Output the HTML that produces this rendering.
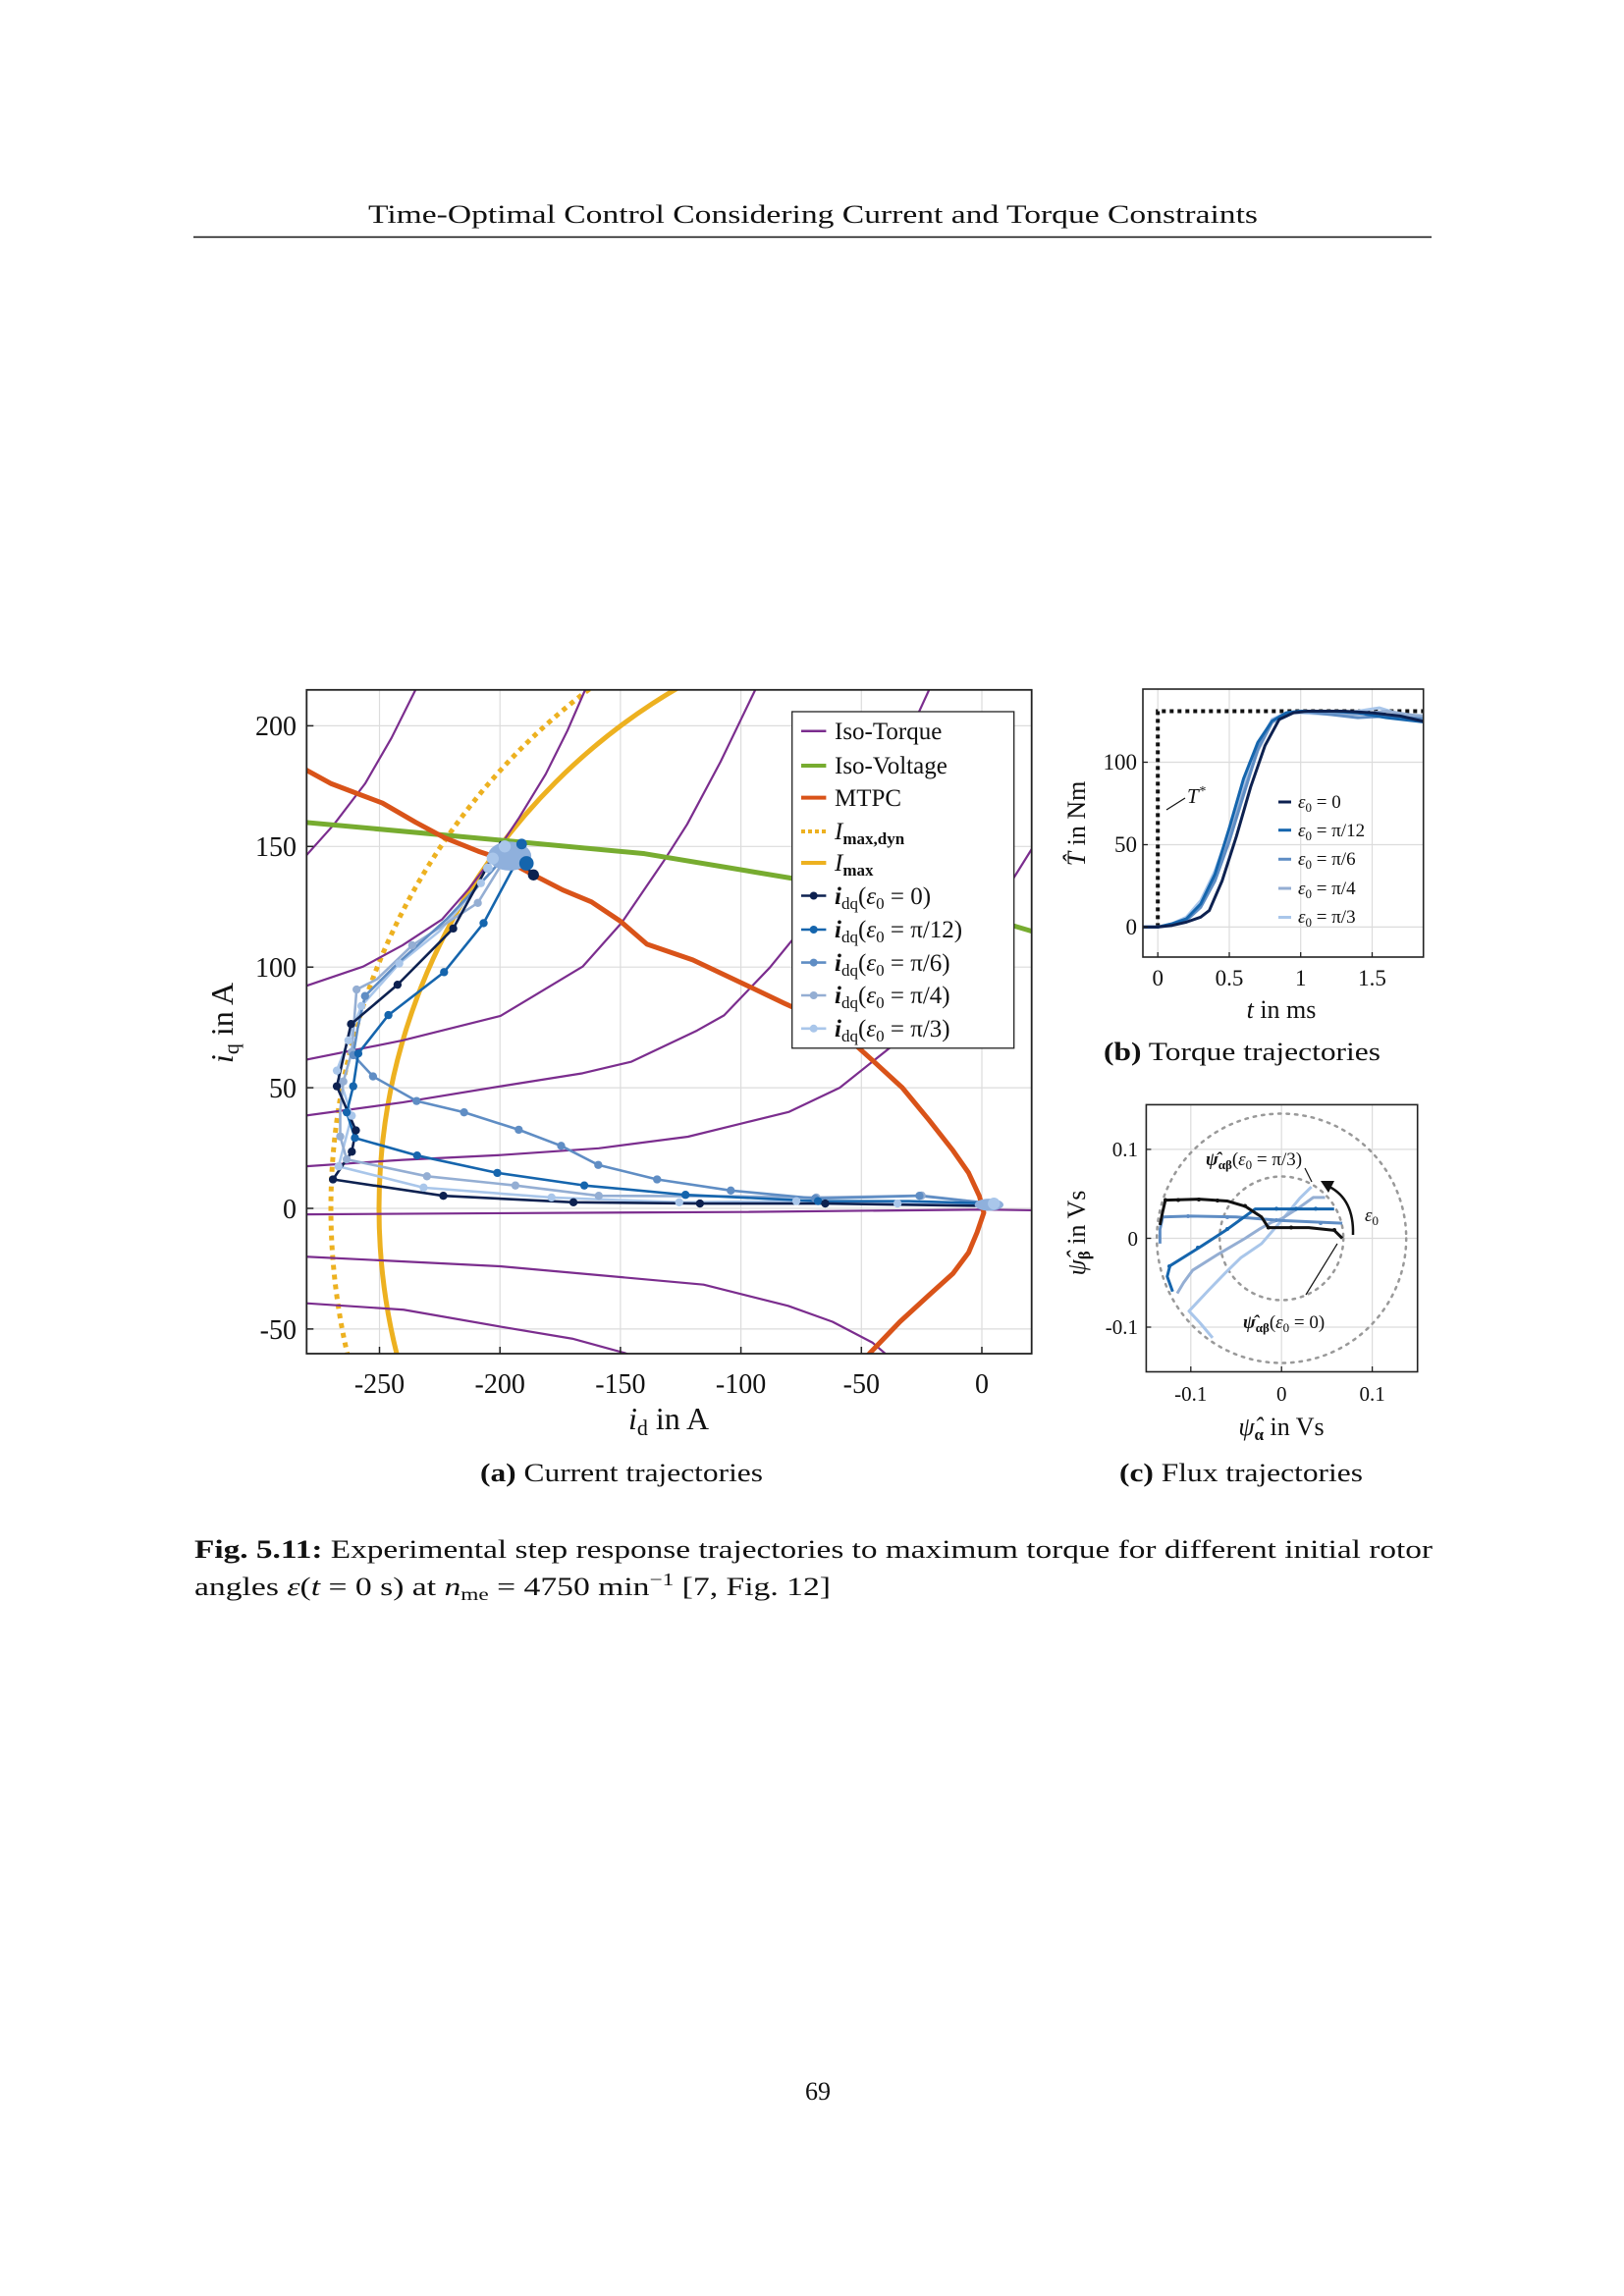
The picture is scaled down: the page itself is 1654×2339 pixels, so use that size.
<!DOCTYPE html>
<html><head><meta charset="utf-8"><style>
html,body{margin:0;padding:0;background:#fff}
svg{display:block}
text{font-family:"Liberation Serif",serif;fill:#111}
</style></head><body>
<svg width="1654" height="2339" viewBox="0 0 1654 2339" xmlns="http://www.w3.org/2000/svg">
<defs>
<clipPath id="ca"><rect x="312.3" y="702.8" width="738.4" height="676.2"/></clipPath>
<clipPath id="cb"><rect x="1164" y="702" width="285.7" height="273"/></clipPath>
<clipPath id="cc"><rect x="1167.4" y="1125.4" width="276.3" height="272.1"/></clipPath>
</defs>
<rect width="1654" height="2339" fill="#fff"/>
<!-- header -->
<text x="375" y="227" font-size="26" textLength="906" lengthAdjust="spacingAndGlyphs">Time-Optimal Control Considering Current and Torque Constraints</text>
<line x1="197" y1="241.5" x2="1458" y2="241.5" stroke="#111" stroke-width="1.6"/>

<!-- ========== PLOT A ========== -->
<g stroke="#dcdcdc" stroke-width="1.2">
<line x1="386.5" y1="702.8" x2="386.5" y2="1379"/><line x1="509.2" y1="702.8" x2="509.2" y2="1379"/><line x1="631.9" y1="702.8" x2="631.9" y2="1379"/><line x1="754.6" y1="702.8" x2="754.6" y2="1379"/><line x1="877.3" y1="702.8" x2="877.3" y2="1379"/><line x1="1000" y1="702.8" x2="1000" y2="1379"/>
<line x1="312.3" y1="739.4" x2="1050.7" y2="739.4"/><line x1="312.3" y1="862.3" x2="1050.7" y2="862.3"/><line x1="312.3" y1="985.2" x2="1050.7" y2="985.2"/><line x1="312.3" y1="1108.1" x2="1050.7" y2="1108.1"/><line x1="312.3" y1="1231" x2="1050.7" y2="1231"/><line x1="312.3" y1="1353.9" x2="1050.7" y2="1353.9"/>
</g>
<g clip-path="url(#ca)">
<circle cx="1000" cy="1231" r="663" fill="none" stroke="#edb120" stroke-width="5" stroke-dasharray="5 5"/>
<circle cx="1000" cy="1231" r="614" fill="none" stroke="#edb120" stroke-width="5"/>
<g transform="matrix(2.454 0 0 -2.458 1000 1231)" fill="none" stroke-linejoin="round" stroke-linecap="round">
<g stroke="#7b2d8e" stroke-width="2.2">
<path vector-effect="non-scaling-stroke" d="M-281,145.6 L-269,159 L-256,176 L-245,195 L-235,215 L-232,222"/>
<path vector-effect="non-scaling-stroke" d="M-281,92 L-256.8,100.2 L-240.5,109 L-224,119.8 L-213.3,132 L-203.8,144.3 L-192,162 L-181,180 L-172,198 L-164.6,215 L-162,222"/>
<path vector-effect="non-scaling-stroke" d="M-281,61.5 L-240.5,69.6 L-199.7,79.8 L-165.7,100.2 L-149.4,118.5 L-131.8,144.3 L-122.3,159.2 L-108.5,185 L-94,215 L-91,222"/>
<path vector-effect="non-scaling-stroke" d="M-281,38.4 L-240.5,43.9 L-199.7,50.6 L-165.7,56 L-145.4,60.8 L-118.2,73.7 L-107,80 L-88,99.8 L-75.6,115 L-62,138 L-48,162 L-35,188 L-26,206 L-21.4,216 L-19,222"/>
<path vector-effect="non-scaling-stroke" d="M-281,17.4 L-240.5,20.1 L-199.7,22.1 L-159,24.9 L-122,29.7 L-80,40 L-59,50 L-37,67.5 L-18,90 L1.2,118 L12,135 L22,151 L25,158"/>
<path vector-effect="non-scaling-stroke" d="M-281,-2.5 L-200,-2 L-100,-1.5 L0,-0.5 L22,-0.8"/>
<path vector-effect="non-scaling-stroke" d="M-281,-20 L-200,-24 L-115.5,-31.6 L-80.4,-40.4 L-62,-47 L-45.3,-55.7 L-38,-62"/>
<path vector-effect="non-scaling-stroke" d="M-281,-39.3 L-240,-42 L-200,-49 L-170,-54 L-148,-60 L-140,-63"/>
</g>
<path vector-effect="non-scaling-stroke" stroke="#77ac30" stroke-width="5" d="M-281,160 L-200,152.6 L-140,147 L-80,137 L-30,128 L0,121 L22,114.5"/>
<path vector-effect="non-scaling-stroke" stroke="#d95319" stroke-width="5" d="M-281,182 L-270,176 L-260.5,172.4 L-248.8,168 L-235,160 L-223,153.6 L-209,148 L-197,144 L-185.7,138 L-174,132 L-162,127 L-150,119 L-139,109.5 L-120,103 L-96.7,92 L-82,85 L-68.7,79 L-55,70 L-45,61 L-33,50 L-22,36.7 L-12,24 L-5.5,14.7 L-1,5 L0.8,-1.8 L-2,-10 L-5.5,-18.3 L-12,-27 L-22,-36 L-34,-47 L-46.5,-60 L-50,-64"/>
<g stroke-width="2.6">
<path vector-effect="non-scaling-stroke" stroke="#a9c6ea" d="M4,1.5 L-35,2 L-77,3 L-125.6,2.5 L-178.6,4.5 L-231.7,8.6 L-267,17.4 L-261.5,38.4 L-267.7,57.1 L-262.9,69.6 L-257.5,83.9 L-241.8,101.5 L-225,115 L-207.9,134.8 L-198,146 L-205,146 L-195,151"/>
<path vector-effect="non-scaling-stroke" stroke="#94aed3" d="M4,2 L-25,5.3 L-68.7,4.5 L-104,5 L-159,5.2 L-193.6,9.5 L-230.3,13.3 L-263.6,20.3 L-266.3,29.8 L-266.3,40.4 L-265,52.6 L-261.5,64.8 L-259.5,90.7 L-251,95 L-236.4,109 L-209.2,126.6 L-196,148 L-190,150"/>
<path vector-effect="non-scaling-stroke" stroke="#5f8dc4" d="M4,2 L-25.9,5.2 L-69.2,4.1 L-104.2,7.4 L-134.8,12 L-159.2,18 L-174.6,25.9 L-192.2,32.6 L-214.9,39.8 L-234.6,44.5 L-252.7,54.7 L-260.9,63.5 L-259,75 L-256,88 L-242.5,101.5 L-222,120 L-205,138 L-196,148 L-191,150"/>
<path vector-effect="non-scaling-stroke" stroke="#1565ad" d="M4,2 L-30,3 L-68,3 L-123,5.6 L-165,9.5 L-201.1,14.7 L-234.4,21.9 L-260.2,29.2 L-263.6,39.8 L-260.9,50.6 L-258.8,64.2 L-246.3,80.1 L-223.2,97.9 L-206.8,118.2 L-195,140.2 L-189,145 L-192,151"/>
<path vector-effect="non-scaling-stroke" stroke="#0d2150" d="M3,1 L-65,2 L-117,2 L-169.5,2.5 L-223.5,5.2 L-269.3,12 L-261.5,23.5 L-259.8,32.3 L-264,42 L-267.7,50.6 L-261.8,76.4 L-242.5,92.7 L-219.4,116 L-199.7,151.7 L-193,146 L-186.1,138.2"/>
</g>
</g>
<g transform="matrix(2.454 0 0 -2.458 1000 1231)">
<g fill="#a9c6ea"><circle cx="-35" cy="2" r="1.7"/><circle cx="-77" cy="3" r="1.7"/><circle cx="-125.6" cy="2.5" r="1.7"/><circle cx="-178.6" cy="4.5" r="1.7"/><circle cx="-231.7" cy="8.6" r="1.7"/><circle cx="-267" cy="17.4" r="1.7"/><circle cx="-261.5" cy="38.4" r="1.7"/><circle cx="-267.7" cy="57.1" r="1.7"/><circle cx="-262.9" cy="69.6" r="1.7"/><circle cx="-257.5" cy="83.9" r="1.7"/><circle cx="-241.8" cy="101.5" r="1.7"/><circle cx="-207.9" cy="134.8" r="1.7"/></g>
<g fill="#94aed3"><circle cx="-25" cy="5.3" r="1.7"/><circle cx="-68.7" cy="4.5" r="1.7"/><circle cx="-159" cy="5.2" r="1.7"/><circle cx="-193.6" cy="9.5" r="1.7"/><circle cx="-230.3" cy="13.3" r="1.7"/><circle cx="-263.6" cy="20.3" r="1.7"/><circle cx="-266.3" cy="29.8" r="1.7"/><circle cx="-265" cy="52.6" r="1.7"/><circle cx="-261.5" cy="64.8" r="1.7"/><circle cx="-259.5" cy="90.7" r="1.7"/><circle cx="-236.4" cy="109" r="1.7"/><circle cx="-209.2" cy="126.6" r="1.7"/></g>
<g fill="#5f8dc4"><circle cx="-25.9" cy="5.2" r="1.7"/><circle cx="-69.2" cy="4.1" r="1.7"/><circle cx="-104.2" cy="7.4" r="1.7"/><circle cx="-134.8" cy="12" r="1.7"/><circle cx="-159.2" cy="18" r="1.7"/><circle cx="-174.6" cy="25.9" r="1.7"/><circle cx="-192.2" cy="32.6" r="1.7"/><circle cx="-214.9" cy="39.8" r="1.7"/><circle cx="-234.6" cy="44.5" r="1.7"/><circle cx="-252.7" cy="54.7" r="1.7"/><circle cx="-260.9" cy="63.5" r="1.7"/><circle cx="-256" cy="88" r="1.7"/></g>
<g fill="#1565ad"><circle cx="-68" cy="3" r="1.7"/><circle cx="-123" cy="5.6" r="1.7"/><circle cx="-165" cy="9.5" r="1.7"/><circle cx="-201.1" cy="14.7" r="1.7"/><circle cx="-234.4" cy="21.9" r="1.7"/><circle cx="-260.2" cy="29.2" r="1.7"/><circle cx="-263.6" cy="39.8" r="1.7"/><circle cx="-260.9" cy="50.6" r="1.7"/><circle cx="-258.8" cy="64.2" r="1.7"/><circle cx="-246.3" cy="80.1" r="1.7"/><circle cx="-223.2" cy="97.9" r="1.7"/><circle cx="-206.8" cy="118.2" r="1.7"/></g>
<g fill="#0d2150"><circle cx="-65" cy="2" r="1.7"/><circle cx="-117" cy="2" r="1.7"/><circle cx="-169.5" cy="2.5" r="1.7"/><circle cx="-223.5" cy="5.2" r="1.7"/><circle cx="-269.3" cy="12" r="1.7"/><circle cx="-261.5" cy="23.5" r="1.7"/><circle cx="-259.8" cy="32.3" r="1.7"/><circle cx="-267.7" cy="50.6" r="1.7"/><circle cx="-261.8" cy="76.4" r="1.7"/><circle cx="-242.5" cy="92.7" r="1.7"/><circle cx="-219.4" cy="116" r="1.7"/><circle cx="-186.1" cy="138.2" r="2.3"/></g>
<g fill="#8fb0dc"><ellipse cx="-196" cy="146" rx="9" ry="6"/><ellipse cx="3" cy="1.5" rx="6" ry="2.5"/></g>
<g fill="#1565ad"><circle cx="-189" cy="143" r="3"/><circle cx="-191" cy="151" r="2.2"/></g>
<g fill="#a9c6ea"><circle cx="-203" cy="145" r="2.5"/><circle cx="-198" cy="150" r="2.5"/><circle cx="-205" cy="141" r="2"/><circle cx="5" cy="2" r="2.5"/></g>
</g>
</g>
<rect x="312.3" y="702.8" width="738.4" height="676.2" fill="none" stroke="#222" stroke-width="1.8"/>
<g stroke="#222" stroke-width="1.5">
<line x1="386.5" y1="1379" x2="386.5" y2="1372"/><line x1="509.2" y1="1379" x2="509.2" y2="1372"/><line x1="631.9" y1="1379" x2="631.9" y2="1372"/><line x1="754.6" y1="1379" x2="754.6" y2="1372"/><line x1="877.3" y1="1379" x2="877.3" y2="1372"/><line x1="1000" y1="1379" x2="1000" y2="1372"/>
<line x1="312.3" y1="739.4" x2="319.3" y2="739.4"/><line x1="312.3" y1="862.3" x2="319.3" y2="862.3"/><line x1="312.3" y1="985.2" x2="319.3" y2="985.2"/><line x1="312.3" y1="1108.1" x2="319.3" y2="1108.1"/><line x1="312.3" y1="1231" x2="319.3" y2="1231"/><line x1="312.3" y1="1353.9" x2="319.3" y2="1353.9"/>
</g>
<g font-size="28" text-anchor="middle">
<text x="386.5" y="1419">-250</text><text x="509.2" y="1419">-200</text><text x="631.9" y="1419">-150</text><text x="754.6" y="1419">-100</text><text x="877.3" y="1419">-50</text><text x="1000" y="1419">0</text>
</g>
<g font-size="28" text-anchor="end">
<text x="302" y="749">200</text><text x="302" y="872">150</text><text x="302" y="995">100</text><text x="302" y="1118">50</text><text x="302" y="1241">0</text><text x="302" y="1364">-50</text>
</g>
<text x="681" y="1456" font-size="32" text-anchor="middle"><tspan font-style="italic">i</tspan><tspan font-size="22" dy="6">d</tspan><tspan dy="-6"> in A</tspan></text>
<text transform="translate(237,1042) rotate(-90)" font-size="32" text-anchor="middle"><tspan font-style="italic">i</tspan><tspan font-size="22" dy="6">q</tspan><tspan dy="-6"> in A</tspan></text>
<rect x="806.7" y="725" width="226" height="342.8" fill="#fff" stroke="#222" stroke-width="1.3"/>
<g stroke-width="4">
<line x1="816" y1="744.8" x2="841.4" y2="744.8" stroke="#7b2d8e" stroke-width="2.5"/>
<line x1="816" y1="780" x2="841.4" y2="780" stroke="#77ac30"/>
<line x1="816" y1="812.6" x2="841.4" y2="812.6" stroke="#d95319"/>
<line x1="816" y1="847" x2="841.4" y2="847" stroke="#edb120" stroke-dasharray="4 3"/>
<line x1="816" y1="879" x2="841.4" y2="879" stroke="#edb120"/>
</g>
<g stroke-width="2.6">
<line x1="816" y1="912.5" x2="841.4" y2="912.5" stroke="#0d2150"/><circle cx="828.7" cy="912.5" r="4" fill="#0d2150"/>
<line x1="816" y1="947" x2="841.4" y2="947" stroke="#1565ad"/><circle cx="828.7" cy="947" r="4" fill="#1565ad"/>
<line x1="816" y1="980.6" x2="841.4" y2="980.6" stroke="#5f8dc4"/><circle cx="828.7" cy="980.6" r="4" fill="#5f8dc4"/>
<line x1="816" y1="1014" x2="841.4" y2="1014" stroke="#94aed3"/><circle cx="828.7" cy="1014" r="4" fill="#94aed3"/>
<line x1="816" y1="1047.8" x2="841.4" y2="1047.8" stroke="#a9c6ea"/><circle cx="828.7" cy="1047.8" r="4" fill="#a9c6ea"/>
</g>
<g font-size="25">
<text x="850" y="753">Iso-Torque</text>
<text x="850" y="788">Iso-Voltage</text>
<text x="850" y="821">MTPC</text>
<text x="850" y="855"><tspan font-style="italic">I</tspan><tspan font-size="17" font-weight="bold" dy="5">max,dyn</tspan></text>
<text x="850" y="887"><tspan font-style="italic">I</tspan><tspan font-size="17" font-weight="bold" dy="5">max</tspan></text>
<text x="850" y="921"><tspan font-style="italic" font-weight="bold">i</tspan><tspan font-size="17" dy="5">dq</tspan><tspan dy="-5">(<tspan font-style="italic">ε</tspan><tspan font-size="17" dy="5">0</tspan><tspan dy="-5"> = 0)</tspan></tspan></text>
<text x="850" y="955"><tspan font-style="italic" font-weight="bold">i</tspan><tspan font-size="17" dy="5">dq</tspan><tspan dy="-5">(<tspan font-style="italic">ε</tspan><tspan font-size="17" dy="5">0</tspan><tspan dy="-5"> = π/12)</tspan></tspan></text>
<text x="850" y="989"><tspan font-style="italic" font-weight="bold">i</tspan><tspan font-size="17" dy="5">dq</tspan><tspan dy="-5">(<tspan font-style="italic">ε</tspan><tspan font-size="17" dy="5">0</tspan><tspan dy="-5"> = π/6)</tspan></tspan></text>
<text x="850" y="1022"><tspan font-style="italic" font-weight="bold">i</tspan><tspan font-size="17" dy="5">dq</tspan><tspan dy="-5">(<tspan font-style="italic">ε</tspan><tspan font-size="17" dy="5">0</tspan><tspan dy="-5"> = π/4)</tspan></tspan></text>
<text x="850" y="1056"><tspan font-style="italic" font-weight="bold">i</tspan><tspan font-size="17" dy="5">dq</tspan><tspan dy="-5">(<tspan font-style="italic">ε</tspan><tspan font-size="17" dy="5">0</tspan><tspan dy="-5"> = π/3)</tspan></tspan></text>
</g>
<text x="489" y="1509" font-size="26" textLength="288" lengthAdjust="spacingAndGlyphs"><tspan font-weight="bold">(a)</tspan> Current trajectories</text>

<!-- ========== PLOT B ========== -->
<g stroke="#dcdcdc" stroke-width="1.2">
<line x1="1179.2" y1="702" x2="1179.2" y2="975"/><line x1="1252" y1="702" x2="1252" y2="975"/><line x1="1324.7" y1="702" x2="1324.7" y2="975"/><line x1="1397.5" y1="702" x2="1397.5" y2="975"/>
<line x1="1164" y1="944.4" x2="1449.7" y2="944.4"/><line x1="1164" y1="860.5" x2="1449.7" y2="860.5"/><line x1="1164" y1="776.5" x2="1449.7" y2="776.5"/>
</g>
<path d="M1179.2,944.4 L1179.2,724.5 L1449.7,724.5" fill="none" stroke="#111" stroke-width="4" stroke-dasharray="4 4"/>
<g clip-path="url(#cb)">
<g transform="matrix(145.5 0 0 -1.679 1179.2 944.4)" fill="none" stroke-width="3" stroke-linejoin="round">
<path vector-effect="non-scaling-stroke" stroke="#a9c6ea" d="M-0.12,0 L0,0 L0.1,2 L0.2,6 L0.3,16 L0.4,34 L0.5,58 L0.6,85 L0.7,110 L0.8,126 L0.9,130 L1.0,130 L1.2,129 L1.4,131 L1.55,133 L1.7,129 L1.9,128"/>
<path vector-effect="non-scaling-stroke" stroke="#94aed3" d="M-0.12,0 L0,0 L0.1,2 L0.2,5 L0.3,13 L0.4,30 L0.5,54 L0.6,82 L0.7,107 L0.8,124 L0.9,129 L1.0,131 L1.2,130 L1.4,129 L1.6,131 L1.9,127"/>
<path vector-effect="non-scaling-stroke" stroke="#5f8dc4" d="M-0.12,0 L0,0 L0.1,2 L0.2,4 L0.3,12 L0.4,28 L0.5,52 L0.6,80 L0.7,108 L0.8,125 L0.9,130 L1.0,131 L1.2,129 L1.4,127 L1.6,128 L1.9,126"/>
<path vector-effect="non-scaling-stroke" stroke="#1565ad" d="M-0.12,0 L0,0 L0.1,2 L0.2,5 L0.3,14 L0.4,32 L0.5,60 L0.6,90 L0.7,112 L0.8,125 L0.9,130 L1.0,131 L1.2,131 L1.4,130 L1.6,127 L1.9,124"/>
<path vector-effect="non-scaling-stroke" stroke="#0d2150" d="M-0.12,0 L0,0 L0.1,1 L0.2,3 L0.3,6 L0.36,10 L0.45,28 L0.55,55 L0.65,85 L0.75,110 L0.85,126 L0.95,130 L1.05,131 L1.3,131 L1.5,130 L1.7,128 L1.9,124"/>
</g>
</g>
<rect x="1164" y="702" width="285.7" height="273" fill="none" stroke="#222" stroke-width="1.6"/>
<g stroke="#222" stroke-width="1.3">
<line x1="1179.2" y1="975" x2="1179.2" y2="970"/><line x1="1252" y1="975" x2="1252" y2="970"/><line x1="1324.7" y1="975" x2="1324.7" y2="970"/><line x1="1397.5" y1="975" x2="1397.5" y2="970"/>
<line x1="1164" y1="944.4" x2="1169" y2="944.4"/><line x1="1164" y1="860.5" x2="1169" y2="860.5"/><line x1="1164" y1="776.5" x2="1169" y2="776.5"/>
</g>
<g font-size="23" text-anchor="middle">
<text x="1179.2" y="1004">0</text><text x="1252" y="1004">0.5</text><text x="1324.7" y="1004">1</text><text x="1397.5" y="1004">1.5</text>
</g>
<g font-size="23" text-anchor="end">
<text x="1158" y="952">0</text><text x="1158" y="868">50</text><text x="1158" y="784">100</text>
</g>
<text x="1305" y="1037" font-size="26" text-anchor="middle"><tspan font-style="italic">t</tspan> in ms</text>
<text transform="translate(1105,839) rotate(-90)" font-size="26" text-anchor="middle"><tspan font-style="italic">T̂</tspan> in Nm</text>
<line x1="1188" y1="825" x2="1207" y2="813" stroke="#111" stroke-width="1.2"/>
<text x="1209" y="818" font-size="21" font-style="italic">T<tspan font-size="14" dy="-8">*</tspan></text>
<g stroke-width="3">
<line x1="1302" y1="817" x2="1315" y2="817" stroke="#0d2150"/>
<line x1="1302" y1="845.7" x2="1315" y2="845.7" stroke="#1565ad"/>
<line x1="1302" y1="875.3" x2="1315" y2="875.3" stroke="#5f8dc4"/>
<line x1="1302" y1="905" x2="1315" y2="905" stroke="#94aed3"/>
<line x1="1302" y1="934.5" x2="1315" y2="934.5" stroke="#a9c6ea"/>
</g>
<g font-size="19">
<text x="1322" y="823"><tspan font-style="italic">ε</tspan><tspan font-size="13" dy="4">0</tspan><tspan dy="-4"> = 0</tspan></text>
<text x="1322" y="852"><tspan font-style="italic">ε</tspan><tspan font-size="13" dy="4">0</tspan><tspan dy="-4"> = π/12</tspan></text>
<text x="1322" y="881"><tspan font-style="italic">ε</tspan><tspan font-size="13" dy="4">0</tspan><tspan dy="-4"> = π/6</tspan></text>
<text x="1322" y="911"><tspan font-style="italic">ε</tspan><tspan font-size="13" dy="4">0</tspan><tspan dy="-4"> = π/4</tspan></text>
<text x="1322" y="940"><tspan font-style="italic">ε</tspan><tspan font-size="13" dy="4">0</tspan><tspan dy="-4"> = π/3</tspan></text>
</g>
<text x="1124" y="1080" font-size="26" textLength="282" lengthAdjust="spacingAndGlyphs"><tspan font-weight="bold">(b)</tspan> Torque trajectories</text>

<!-- ========== PLOT C ========== -->
<g stroke="#dcdcdc" stroke-width="1.2">
<line x1="1212.8" y1="1125.4" x2="1212.8" y2="1397.5"/><line x1="1305.2" y1="1125.4" x2="1305.2" y2="1397.5"/><line x1="1397.6" y1="1125.4" x2="1397.6" y2="1397.5"/>
<line x1="1167.4" y1="1170.9" x2="1443.7" y2="1170.9"/><line x1="1167.4" y1="1261.5" x2="1443.7" y2="1261.5"/><line x1="1167.4" y1="1352" x2="1443.7" y2="1352"/>
</g>
<g clip-path="url(#cc)">
<circle cx="1305.2" cy="1261.5" r="127" fill="none" stroke="#999" stroke-width="2.5" stroke-dasharray="2.5 6" stroke-linecap="round"/>
<circle cx="1305.2" cy="1261.5" r="63" fill="none" stroke="#999" stroke-width="2.5" stroke-dasharray="2.5 6" stroke-linecap="round"/>
<g transform="matrix(924 0 0 -905 1305.2 1261.5)" fill="none" stroke-width="3" stroke-linejoin="round">
<path vector-effect="non-scaling-stroke" stroke="#a9c6ea" d="M0.033,0.058 L0.02,0.045 L0,0.02 L-0.022,-0.006 L-0.045,-0.022 L-0.062,-0.039 L-0.08,-0.058 L-0.102,-0.082 L-0.09,-0.095 L-0.076,-0.112"/>
<path vector-effect="non-scaling-stroke" stroke="#94aed3" d="M0.048,0.046 L0.035,0.046 L0.02,0.035 L0,0.022 L-0.011,0.018 L-0.025,0.01 L-0.04,0 L-0.07,-0.018 L-0.098,-0.036 L-0.108,-0.05 L-0.115,-0.062"/>
<path vector-effect="non-scaling-stroke" stroke="#5f8dc4" d="M0.067,0.017 L0,0.02 L-0.05,0.024 L-0.1,0.025 L-0.131,0.024 L-0.134,0.01 L-0.134,-0.006"/>
<path vector-effect="non-scaling-stroke" stroke="#1565ad" d="M0.058,0.033 L0,0.033 L-0.029,0.033 L-0.06,0.01 L-0.09,-0.01 L-0.123,-0.031 L-0.126,-0.043 L-0.12,-0.06"/>
<path vector-effect="non-scaling-stroke" stroke="#111" d="M0.067,0 L0.058,0.009 L0.03,0.012 L0.011,0.012 L-0.0145,0.012 L-0.022,0.024 L-0.04,0.036 L-0.06,0.042 L-0.091,0.044 L-0.128,0.043 L-0.131,0.03 L-0.134,0.015"/>
</g>
<g fill="#111"><circle cx="1359" cy="1253" r="2"/><circle cx="1315" cy="1250.5" r="2"/><circle cx="1291.8" cy="1250.5" r="2"/><circle cx="1268" cy="1228.5" r="2"/><circle cx="1240" cy="1223" r="2"/><circle cx="1221" cy="1222" r="2"/><circle cx="1200" cy="1222.5" r="2"/><circle cx="1187" cy="1222.5" r="2"/></g>
<g fill="#1565ad"><circle cx="1340" cy="1231.4" r="2"/><circle cx="1320" cy="1231.4" r="2"/><circle cx="1300" cy="1231.4" r="2"/><circle cx="1250" cy="1252" r="2"/><circle cx="1220" cy="1271" r="2"/><circle cx="1191" cy="1290" r="2"/></g>
<g fill="#5f8dc4"><circle cx="1345" cy="1246" r="2"/><circle cx="1300" cy="1243" r="2"/><circle cx="1250" cy="1240" r="2"/><circle cx="1210" cy="1239" r="2"/></g>
</g>
<path d="M1378,1258 Q1379,1222 1354,1209" fill="none" stroke="#111" stroke-width="2.5"/>
<polygon points="1345,1203 1359,1203 1353,1215" fill="#111"/>
<text x="1390" y="1244" font-size="19" font-style="italic">ε<tspan font-size="13" font-style="normal" dy="4">0</tspan></text>
<line x1="1329" y1="1190" x2="1336" y2="1204" stroke="#111" stroke-width="1.2"/>
<line x1="1330" y1="1319" x2="1362" y2="1267" stroke="#111" stroke-width="1.2"/>
<rect x="1167.4" y="1125.4" width="276.3" height="272.1" fill="none" stroke="#222" stroke-width="1.6"/>
<g stroke="#222" stroke-width="1.3">
<line x1="1212.8" y1="1397.5" x2="1212.8" y2="1392"/><line x1="1305.2" y1="1397.5" x2="1305.2" y2="1392"/><line x1="1397.6" y1="1397.5" x2="1397.6" y2="1392"/>
<line x1="1167.4" y1="1170.9" x2="1172.4" y2="1170.9"/><line x1="1167.4" y1="1261.5" x2="1172.4" y2="1261.5"/><line x1="1167.4" y1="1352" x2="1172.4" y2="1352"/>
</g>
<g font-size="21" text-anchor="middle">
<text x="1212.8" y="1427">-0.1</text><text x="1305.2" y="1427">0</text><text x="1397.6" y="1427">0.1</text>
</g>
<g font-size="21" text-anchor="end">
<text x="1159" y="1178">0.1</text><text x="1159" y="1269">0</text><text x="1159" y="1359">-0.1</text>
</g>
<text x="1305" y="1462" font-size="26" text-anchor="middle"><tspan font-style="italic">ψ̂</tspan><tspan font-size="17" font-weight="bold" dy="5">α</tspan><tspan dy="-5"> in Vs</tspan></text>
<text transform="translate(1105,1256) rotate(-90)" font-size="26" text-anchor="middle"><tspan font-style="italic">ψ̂</tspan><tspan font-size="17" font-weight="bold" dy="5">β</tspan><tspan dy="-5"> in Vs</tspan></text>
<text x="1228" y="1187" font-size="19"><tspan font-weight="bold" font-style="italic">ψ̂</tspan><tspan font-size="13" font-weight="bold" dy="4">αβ</tspan><tspan dy="-4">(<tspan font-style="italic">ε</tspan><tspan font-size="13" dy="4">0</tspan><tspan dy="-4"> = π/3)</tspan></tspan></text>
<text x="1266" y="1353" font-size="19"><tspan font-weight="bold" font-style="italic">ψ̂</tspan><tspan font-size="13" font-weight="bold" dy="4">αβ</tspan><tspan dy="-4">(<tspan font-style="italic">ε</tspan><tspan font-size="13" dy="4">0</tspan><tspan dy="-4"> = 0)</tspan></tspan></text>
<text x="1140" y="1509" font-size="26" textLength="248" lengthAdjust="spacingAndGlyphs"><tspan font-weight="bold">(c)</tspan> Flux trajectories</text>

<!-- caption -->
<text x="198" y="1587" font-size="26" textLength="1261" lengthAdjust="spacingAndGlyphs"><tspan font-weight="bold">Fig. 5.11:</tspan> Experimental step response trajectories to maximum torque for different initial rotor</text>
<text x="198" y="1625" font-size="26" textLength="648" lengthAdjust="spacingAndGlyphs">angles <tspan font-style="italic">ε</tspan>(<tspan font-style="italic">t</tspan> = 0 s) at <tspan font-style="italic">n</tspan><tspan font-size="18" dy="5">me</tspan><tspan dy="-5"> = 4750 min</tspan><tspan font-size="18" dy="-10">−1</tspan><tspan dy="10"> [7, Fig. 12]</tspan></text>
<text x="833" y="2139" font-size="26" text-anchor="middle">69</text>
</svg>
</body></html>
